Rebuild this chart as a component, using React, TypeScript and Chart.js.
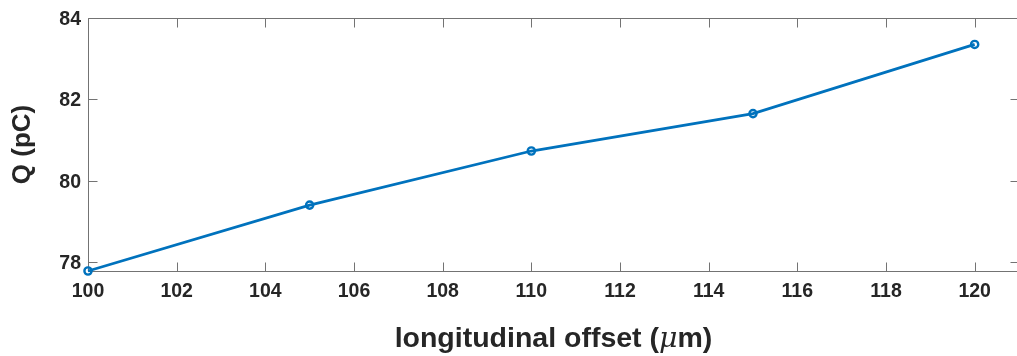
import React, { useEffect, useRef } from "react";
import { Chart, registerables } from "chart.js";

Chart.register(...registerables);

const offsets = [100, 105, 110, 115, 120];
const charges = [77.78, 79.4, 80.73, 81.65, 83.35];
const xTickValues = [100, 102, 104, 106, 108, 110, 112, 114, 116, 118, 120];
const yTickValues = [78, 80, 82, 84];
const xTitleParts = ["longitudinal offset (", "\u03bc", "m)"];
const yTitle = "Q (pC)";

const FONT = '"Liberation Sans", Arial, Helvetica, sans-serif';
const AXIS_COLOR = "#737373";
const TEXT_COLOR = "#262626";
const LINE_COLOR = "#0072BD";

const matlabAxes = {
  id: "matlabAxes",
  beforeDatasetsDraw(chart: any) {
    const ctx = chart.ctx as CanvasRenderingContext2D;
    const { left, right, top, bottom } = chart.chartArea;
    const xs = chart.scales.x;
    const ys = chart.scales.y;
    const L = Math.round(left) + 0.5;
    const R = Math.round(right) + 0.5;
    const T = Math.round(top) + 0.5;
    const B = Math.round(bottom) + 0.5;
    const tick = 9;
    ctx.save();
    ctx.strokeStyle = AXIS_COLOR;
    ctx.lineWidth = 1;
    ctx.beginPath();
    ctx.rect(L, T, R - L, B - T);
    for (const v of xTickValues) {
      const px = Math.round(xs.getPixelForValue(v)) + 0.5;
      ctx.moveTo(px, B);
      ctx.lineTo(px, B - tick);
      ctx.moveTo(px, T);
      ctx.lineTo(px, T + tick);
    }
    for (const v of yTickValues) {
      const py = Math.round(ys.getPixelForValue(v)) + 0.5;
      ctx.moveTo(L, py);
      ctx.lineTo(L + tick, py);
      ctx.moveTo(R, py);
      ctx.lineTo(R - tick, py);
    }
    ctx.stroke();

    // tick labels
    ctx.fillStyle = TEXT_COLOR;
    const tickSize = 19.5;
    ctx.font = `bold ${tickSize}px ${FONT}`;
    const cap = tickSize * 0.716;
    ctx.textBaseline = "alphabetic";
    ctx.textAlign = "center";
    for (const v of xTickValues) {
      const px = xs.getPixelForValue(v);
      ctx.fillText(String(v), px, B + 19 + cap / 2);
    }
    ctx.textAlign = "right";
    for (const v of yTickValues) {
      const py = ys.getPixelForValue(v);
      ctx.fillText(String(v), L - 7.5, py + cap / 2);
    }

    // x title with italic mu
    const titleSize = 28.5;
    const boldFont = `bold ${titleSize}px ${FONT}`;
    const muFont = `italic ${titleSize}px "DejaVu Serif", "Liberation Serif", serif`;
    ctx.textAlign = "left";
    const fonts = [boldFont, muFont, boldFont];
    const widths = xTitleParts.map((p, i) => {
      ctx.font = fonts[i];
      return ctx.measureText(p).width;
    });
    const total = widths.reduce((a, b) => a + b, 0);
    let cx = (left + right) / 2 - total / 2;
    const baseY = 346.5;
    xTitleParts.forEach((p, i) => {
      ctx.font = fonts[i];
      ctx.fillText(p, cx, baseY);
      cx += widths[i];
    });

    // y title
    ctx.save();
    ctx.translate(29.5, (top + bottom) / 2);
    ctx.rotate(-Math.PI / 2);
    ctx.font = `bold 26px ${FONT}`;
    ctx.textAlign = "center";
    ctx.textBaseline = "alphabetic";
    ctx.fillText(yTitle, 0, 0);
    ctx.restore();
    ctx.restore();
  },
};

export default function App() {
  const canvasRef = useRef<HTMLCanvasElement | null>(null);
  useEffect(() => {
    const canvas = canvasRef.current;
    if (!canvas) return;
    const chart = new Chart(canvas, {
      type: "line",
      data: {
        datasets: [
          {
            data: offsets.map((x, i) => ({ x, y: charges[i] })),
            borderColor: LINE_COLOR,
            borderWidth: 2.8,
            pointRadius: 3.6,
            pointBorderWidth: 2.4,
            pointBackgroundColor: "rgba(0,0,0,0)",
            pointBorderColor: LINE_COLOR,
            tension: 0,
            clip: false as any,
          },
        ],
      },
      options: {
        animation: false,
        responsive: false,
        devicePixelRatio: 1,
        layout: { padding: { left: 88, top: 18, right: 21, bottom: 85 } },
        plugins: { legend: { display: false }, tooltip: { enabled: false } },
        events: [],
        scales: {
          x: { type: "linear", min: 100, max: 121, display: false },
          y: { type: "linear", min: 77.78, max: 84, display: false },
        },
      },
      plugins: [matlabAxes],
    });
    return () => chart.destroy();
  }, []);
  return (
    <div
      style={{
        position: "absolute",
        left: 0,
        top: 0,
        width: 1017,
        height: 356,
        overflow: "hidden",
        background: "#fff",
      }}
    >
      <canvas ref={canvasRef} width={1040} height={356} style={{ display: "block" }} />
    </div>
  );
}
